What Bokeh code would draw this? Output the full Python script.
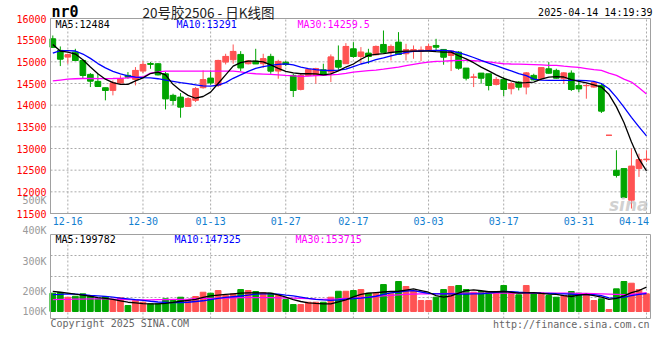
from bokeh.plotting import figure
from bokeh.models import Range1d, FixedTicker, Label, ColumnDataSource, LinearAxis
from bokeh.embed import file_html
from bokeh.resources import INLINE

# ---------------- data ----------------
dates = ["12-12", "12-13", "12-16", "12-17", "12-18", "12-19", "12-20", "12-23", "12-24", "12-25",
         "12-26", "12-27", "12-30", "12-31", "01-02", "01-03", "01-06", "01-07", "01-08", "01-09",
         "01-10", "01-13", "01-14", "01-15", "01-16", "01-17", "01-20", "01-21", "01-22", "01-23",
         "01-24", "01-27", "02-05", "02-06", "02-07", "02-10", "02-11", "02-12", "02-13", "02-14",
         "02-17", "02-18", "02-19", "02-20", "02-21", "02-24", "02-25", "02-26", "02-27", "02-28",
         "03-03", "03-04", "03-05", "03-06", "03-07", "03-10", "03-11", "03-12", "03-13", "03-14",
         "03-17", "03-18", "03-19", "03-20", "03-21", "03-24", "03-25", "03-26", "03-27", "03-28",
         "03-31", "04-01", "04-02", "04-03", "04-07", "04-08", "04-09", "04-10", "04-11", "04-14"]

open_ = [15532, 15263, 15109, 15224, 15032, 14710, 14548, 14403, 14341, 14510,
         14687, 14595, 14787, 14960, 14956, 14725, 14226, 14187, 13972, 14111,
         14403, 14625, 14456, 14994, 15048, 15171, 14956, 15017, 14956, 15125,
         14787, 14990, 14687, 14364, 14687, 14687, 14817, 14764, 15032, 14956,
         15301, 15124, 15201, 15163, 15401, 15224, 15455, 15186, 15247, 15247,
         15263, 15378, 15286, 15148, 15224, 14856, 14640, 14740, 14725, 14479,
         14594, 14380, 14533, 14418, 14687, 14610, 14840, 14802, 14610, 14740,
         14456, 14449, 14418, 14456, 13304, 12498, 12536, 11807, 12536, 12740]
high = [15608, 15355, 15186, 15301, 15048, 14740, 14725, 14403, 14571, 14687,
        14764, 14879, 15017, 14994, 14971, 14764, 14264, 14280, 14187, 14418,
        14802, 14802, 15048, 15186, 15401, 15247, 15040, 15301, 15186, 15186,
        15048, 15020, 14725, 14740, 14840, 14863, 14956, 15171, 15378, 15432,
        15455, 15340, 15301, 15378, 15723, 15401, 15685, 15416, 15378, 15355,
        15416, 15531, 15286, 15247, 15247, 14856, 14725, 14740, 14725, 14648,
        14648, 14533, 14556, 14764, 14725, 14863, 14994, 14840, 14764, 14802,
        14533, 14495, 14533, 14495, 13304, 12959, 12536, 12997, 12882, 12959]
low = [15339, 14902, 14956, 15017, 14625, 14418, 14433, 14111, 14226, 14495,
       14610, 14456, 14740, 14840, 14687, 13903, 13995, 13711, 13972, 14072,
       14380, 14472, 14418, 14940, 14956, 14787, 14940, 14956, 14863, 14725,
       14610, 14900, 14188, 14341, 14671, 14495, 14687, 14533, 14817, 14956,
       15094, 14956, 14956, 15148, 15224, 15032, 15171, 15032, 15071, 15017,
       15247, 15247, 14933, 14787, 14817, 14571, 14418, 14495, 14341, 14456,
       14211, 14249, 14341, 14249, 14571, 14587, 14725, 14610, 14495, 14326,
       14303, 14149, 14403, 13819, 13304, 12329, 11868, 11615, 12344, 12690]
close = [15339, 15063, 15163, 15032, 14687, 14556, 14433, 14341, 14510, 14610,
         14648, 14802, 14940, 14945, 14702, 14149, 14111, 13957, 14149, 14380,
         14587, 14518, 15032, 15125, 15240, 14863, 15017, 14956, 15071, 14787,
         15010, 14940, 14341, 14687, 14817, 14840, 14687, 15109, 14879, 15355,
         15124, 15224, 15124, 15355, 15224, 15355, 15171, 15278, 15278, 15270,
         15355, 15340, 15109, 15247, 14856, 14625, 14648, 14625, 14456, 14594,
         14364, 14495, 14418, 14740, 14587, 14863, 14740, 14625, 14740, 14364,
         14380, 14456, 14518, 13865, 13304, 12383, 11868, 12590, 12743, 12750]

ma5 = [15400, 15250, 15225, 15180, 15050, 14880, 14725, 14600, 14520, 14480,
       14480, 14560, 14630, 14730, 14760, 14700, 14480, 14340, 14226, 14160,
       14200, 14300, 14500, 14700, 14900, 14980, 15017, 15015, 15000, 14930,
       14850, 14780, 14745, 14725, 14725, 14720, 14700, 14720, 14790, 14880,
       14950, 15060, 15148, 15170, 15190, 15215, 15235, 15245, 15247, 15247,
       15247, 15235, 15224, 15224, 15140, 15070, 14980, 14879, 14790, 14700,
       14620, 14560, 14515, 14520, 14533, 14600, 14648, 14660, 14650, 14590,
       14550, 14515, 14470, 14418, 14250, 13960, 13600, 13150, 12760, 12484]
ma10 = [15200, 15260, 15260, 15250, 15180, 15080, 14960, 14860, 14780, 14720,
        14675, 14645, 14635, 14628, 14610, 14580, 14550, 14518, 14495, 14470,
        14445, 14440, 14460, 14520, 14620, 14700, 14780, 14850, 14890, 14920,
        14940, 14955, 14930, 14880, 14845, 14820, 14805, 14800, 14810, 14830,
        14890, 14950, 14994, 15050, 15090, 15140, 15180, 15220, 15240, 15250,
        15260, 15263, 15263, 15250, 15210, 15160, 15100, 15032, 14970, 14910,
        14850, 14790, 14730, 14680, 14600, 14580, 14571, 14571, 14571, 14571,
        14571, 14565, 14550, 14500, 14380, 14180, 13957, 13720, 13500, 13291]
ma30 = [14560, 14580, 14600, 14610, 14615, 14615, 14612, 14612, 14615, 14620,
        14630, 14640, 14650, 14740, 14770, 14785, 14787, 14787, 14787, 14787,
        14787, 14787, 14787, 14787, 14787, 14770, 14740, 14725, 14718, 14710,
        14700, 14687, 14675, 14664, 14670, 14680, 14690, 14700, 14710, 14735,
        14764, 14780, 14795, 14810, 14830, 14855, 14880, 14910, 14940, 14970,
        14994, 15010, 15017, 15025, 15032, 15032, 15025, 15017, 15000, 14975,
        14956, 14950, 14945, 14940, 14935, 14930, 14920, 14917, 14900, 14885,
        14870, 14845, 14820, 14802, 14740, 14687, 14600, 14533, 14400, 14259.5]

volume_k = [150, 156, 117, 125, 145, 125, 104, 123, 96, 112,
            49, 90, 76, 63, 63, 104, 96, 117, 96, 123,
            158, 150, 172, 131, 145, 180, 172, 164, 153, 150,
            131, 98, 57, 57, 76, 76, 76, 117, 166, 166,
            172, 180, 150, 150, 221, 145, 246, 205, 172, 90,
            90, 117, 180, 205, 213, 180, 158, 164, 164, 158,
            213, 153, 137, 213, 145, 153, 131, 117, 131, 164,
            150, 137, 90, 104, 16, 186, 246, 232, 180, 145]
vma5 = [165, 158, 150, 142, 135, 125, 114, 108, 100, 88,
        76, 70, 64, 63, 63, 67, 74, 84, 92, 100,
        116, 128, 135, 140, 145, 150, 153, 153, 153, 150,
        137, 118, 98, 82, 71, 66, 63, 63, 78, 95,
        120, 140, 150, 155, 160, 164, 166, 176, 186, 172,
        158, 130, 117, 128, 150, 172, 178, 170, 162, 162,
        164, 158, 150, 153, 155, 148, 143, 140, 130, 123,
        135, 140, 130, 118, 99, 107, 128, 155, 172, 199.782]
vma10 = [139, 141, 144, 143, 138, 132, 128, 124, 118, 110,
         104, 97, 92, 84, 78, 75, 72, 73, 76, 82,
         88, 98, 108, 115, 121, 127, 135, 142, 145, 145,
         143, 135, 128, 118, 108, 100, 95, 92, 96, 102,
         105, 110, 116, 125, 140, 153, 160, 168, 172, 160,
         148, 145, 145, 144, 143, 143, 144, 145, 150, 158,
         164, 162, 158, 155, 153, 150, 148, 146, 145, 142,
         139, 138, 138, 130, 112, 110, 118, 130, 140, 147.325]
vma30 = [98, 99, 100, 101, 102, 103, 104, 104, 102, 100,
         98, 96, 96, 96, 97, 98, 99, 100, 102, 105,
         107, 108, 109, 110, 112, 113, 114, 114, 114, 113,
         112, 110, 109, 107, 105, 102, 100, 102, 104, 107,
         110, 114, 118, 124, 128, 132, 137, 140, 142, 144,
         145, 146, 147, 148, 149, 150, 150, 150, 150, 150,
         150, 150, 150, 150, 150, 150, 150, 150, 150, 150,
         149, 148, 147, 145, 143, 141, 139, 140, 146, 153.715]

price_ticks = [11500, 12000, 12500, 13000, 13500, 14000, 14500, 15000, 15500, 16000]
date_labels = ["12-16", "12-30", "01-13", "01-27", "02-17", "03-03", "03-17", "03-31", "04-14"]
vol_labels = ["100K", "200K", "300K", "400K", "500K"]
symbol = "nr0"
chart_title = "20号胶2506 - 日K线图"
timestamp = "2025-04-14 14:19:39"
price_ma_text = ["MA5:12484", "MA10:13291", "MA30:14259.5"]
vol_ma_text = ["MA5:199782", "MA10:147325", "MA30:153715"]
footer_left = "Copyright 2025 SINA.COM"
footer_right = "http://finance.sina.com.cn"

# ---------------- layout (pixel geometry of the page) ----------------
W, H = 660, 340
MONO = "DejaVu Sans Mono"
RED = "#ff5353"
GREEN = "#00a400"
GRID = "#aaaaaa"
FRAME = "#a0a0a0"

PANEL_L, PANEL_R = 50, 650            # both panels, px
PRICE_T, PRICE_B = 18, 213            # price panel, px
VOL_T, VOL_B = 234, 318               # volume panel, px
FIRST_BAR_PX, BAR_STEP = 52.3, 7.515  # x of the first candle, px per trading day
VOL_ZERO_PX, K_PER_PX = 311, 8.2      # volume baseline, thousand lots per px
VOL_LABEL_PX = [311, 291, 261, 230, 200]

n = len(dates)
xs = list(range(n))


def px_to_x(px):
    return (px - FIRST_BAR_PX) / BAR_STEP


price_per_px = (price_ticks[-1] - price_ticks[0]) / (PRICE_B - PRICE_T)


def px_to_price(py):
    return price_ticks[-1] - (py - PRICE_T) * price_per_px


def px_to_vol(py):
    return (VOL_ZERO_PX - py) * K_PER_PX


xl, xr = px_to_x(PANEL_L), px_to_x(PANEL_R)

p = figure(width=W, height=H,
           x_range=Range1d(px_to_x(0), px_to_x(W)),
           y_range=Range1d(px_to_price(H), px_to_price(0)),
           x_axis_location=None, y_axis_location=None,
           output_backend="svg", toolbar_location=None, min_border=0,
           outline_line_color=None, background_fill_color="white", border_fill_color="white")
p.extra_y_ranges = {"vol": Range1d(px_to_vol(H), px_to_vol(0))}
p.xgrid.visible = False
p.ygrid.visible = False

up = [c >= o for o, c in zip(open_, close)]
colors = [RED if u else GREEN for u in up]
src = ColumnDataSource(dict(
    x=xs, open=open_, high=high, low=low, close=close,
    top=[max(o, c) for o, c in zip(open_, close)],
    bottom=[min(o, c) for o, c in zip(open_, close)],
    color=colors, vol=volume_k, ma5=ma5, ma10=ma10, ma30=ma30,
    vma5=vma5, vma10=vma10, vma30=vma30))

grid_pos = [dates.index(d) for d in date_labels]
label_pos = [min(float(g), px_to_x(PANEL_R - 16.5)) for g in grid_pos]
label_map = {lp: d for lp, d in zip(label_pos, date_labels)}

# ---------------- grid lines (dotted) ----------------
p_lo, p_hi = price_ticks[0], price_ticks[-1]
v_lo, v_hi = px_to_vol(VOL_B), px_to_vol(VOL_T)
p.segment(x0=grid_pos, y0=[p_lo] * len(grid_pos), x1=grid_pos, y1=[p_hi] * len(grid_pos),
          line_color=GRID, line_dash="2 2", line_width=1, level="underlay")
p.segment(x0=[xl] * len(price_ticks), y0=price_ticks, x1=[xr] * len(price_ticks), y1=price_ticks,
          line_color=GRID, line_dash="2 2", line_width=1, level="underlay")
p.segment(x0=grid_pos, y0=[v_lo] * len(grid_pos), x1=grid_pos, y1=[v_hi] * len(grid_pos),
          line_color=GRID, line_dash="2 2", line_width=1, level="underlay", y_range_name="vol")
v_quarters = [v_lo + (v_hi - v_lo) * k / 4 for k in (1, 2, 3)]
p.segment(x0=[xl] * 3, y0=v_quarters, x1=[xr] * 3, y1=v_quarters,
          line_color=GRID, line_dash="2 2", line_width=1, level="underlay", y_range_name="vol")

# ---------------- candles ----------------
p.segment(x0="x", y0="low", x1="x", y1="high", line_color="color", line_width=1, source=src)
p.vbar(x="x", width=0.76, top="top", bottom="bottom", fill_color="color", line_color="color",
       line_width=1, source=src)
p.rect(x="x", y="close", width=0.76, height=1, height_units="screen", fill_color="color",
       line_color=None, source=src)
p.line(x="x", y="ma30", line_color="#ff00ff", line_width=1.3, source=src)
p.line(x="x", y="ma10", line_color="#0000ff", line_width=1.3, source=src)
p.line(x="x", y="ma5", line_color="#000000", line_width=1.3, source=src)

# ---------------- volume ----------------
p.vbar(x="x", width=0.76, top="vol", bottom=0, fill_color="color", line_color="color",
       source=src, y_range_name="vol")
p.line(x="x", y="vma30", line_color="#ff00ff", line_width=1.3, source=src, y_range_name="vol")
p.line(x="x", y="vma10", line_color="#0000ff", line_width=1.3, source=src, y_range_name="vol")
p.line(x="x", y="vma5", line_color="#000000", line_width=1.3, source=src, y_range_name="vol")

# ---------------- panel borders ----------------
p.quad(left=[xl], right=[xr], bottom=[p_lo], top=[p_hi], fill_color=None, line_color=FRAME,
       line_width=1)
p.quad(left=[xl], right=[xr], bottom=[v_lo], top=[v_hi], fill_color=None, line_color=FRAME,
       line_width=1, y_range_name="vol")


# ---------------- axes ----------------
def style_axis(ax, color, standoff):
    ax.major_label_text_color = color
    ax.major_label_text_font = MONO
    ax.major_label_text_font_size = "10px"
    ax.major_label_standoff = standoff
    ax.major_tick_out = 0
    ax.major_tick_in = 0
    ax.minor_tick_out = 0
    ax.minor_tick_in = 0
    ax.axis_line_color = FRAME


ya = LinearAxis(fixed_location=xl, bounds=(p_lo, p_hi), ticker=FixedTicker(ticks=price_ticks))
style_axis(ya, "#ff0000", 4)
p.add_layout(ya, "left")

vol_label_vals = [px_to_vol(py) for py in VOL_LABEL_PX]
yv = LinearAxis(y_range_name="vol", fixed_location=xl,
                bounds=(px_to_vol(VOL_B), px_to_vol(VOL_LABEL_PX[-1] - 6)),
                ticker=FixedTicker(ticks=vol_label_vals),
                major_label_overrides={v: t for v, t in zip(vol_label_vals, vol_labels)})
style_axis(yv, "#9a9a9a", 4)
yv.axis_line_color = None
p.add_layout(yv, "left")

xa = LinearAxis(fixed_location=p_lo, bounds=(xl, xr), ticker=FixedTicker(ticks=label_pos),
                major_label_overrides=label_map)
style_axis(xa, "#1380d0", 3)
p.add_layout(xa, "below")


# ---------------- texts ----------------
def lab(x, y_from_top, text, color="black", size="10px", font=MONO, align="left",
        style="normal", alpha=1.0):
    p.add_layout(Label(x=x, y=H - y_from_top, x_units="screen", y_units="screen", text=text,
                       text_color=color, text_font_size=size, text_font=font,
                       text_align=align, text_baseline="middle", text_font_style=style,
                       text_alpha=alpha))


lab(51, 11, symbol, size="15px", style="bold")
lab(142, 11, chart_title, color="#222222", size="13.5px", font="Noto Sans CJK SC")
lab(652, 12, timestamp, align="right")
for x, t, c in zip([55, 176, 297], price_ma_text, ["#000000", "#0000ff", "#ff00ff"]):
    lab(x, 23.7, t, color=c)
for x, t, c in zip([55, 174, 295], vol_ma_text, ["#000000", "#0000ff", "#ff00ff"]):
    lab(x, 238.5, t, color=c)
lab(50, 322.5, footer_left, color="#666666")
lab(649, 324, footer_right, color="#666666", align="right")
lab(648, 204, "sina", color="#bdbdbd", size="17px", font="DejaVu Sans", align="right",
    style="bold italic", alpha=0.7)

open("out.html", "w").write(file_html(p, INLINE))
